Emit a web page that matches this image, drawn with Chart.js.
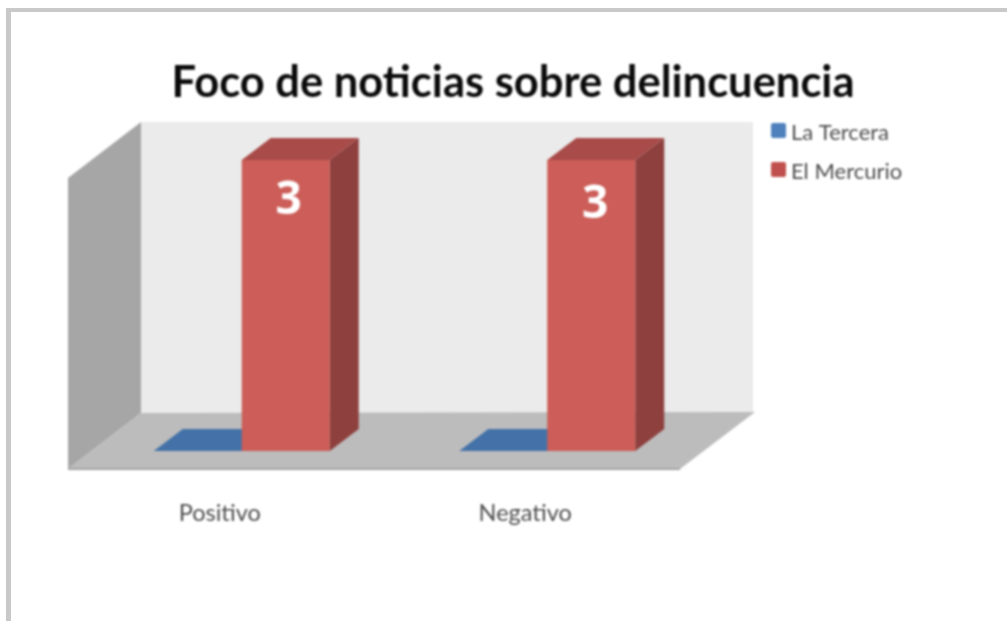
<!DOCTYPE html>
<html>
<head>
<meta charset="utf-8">
<title>Foco de noticias sobre delincuencia</title>
<script src="https://cdn.jsdelivr.net/npm/chart.js@4"></script>
<style>
  html, body { margin: 0; padding: 0; background: #fff; overflow: hidden; }
  #frame { position: absolute; left: 6px; top: 8px; right: 0; bottom: 0;
           border-left: 5px solid #c9c9c9; border-top: 4px solid #c9c9c9; }
  #myChart { position: absolute; left: 0; top: 0; filter: blur(0.8px); }
</style>
</head>
<body>
<div id="frame"></div>
<canvas id="myChart" width="1007" height="621"></canvas>
<script>
var chart_title = "Foco de noticias sobre delincuencia"
var categories = ["Positivo", "Negativo"]
var la_tercera = [0, 0]
var el_mercurio = [3, 3]

var series_colors = ["#4f81bd", "#c0504d"]
var front_colors = ["#4472a8", "#cc5d58"]
var top_colors = ["#4472a8", "#a84b49"]
var side_colors = ["#4472a8", "#8e403e"]
var label_shift = [[3, 41], [4, 45]]

function poly(ctx, color, pts) {
  ctx.fillStyle = color
  ctx.beginPath()
  ctx.moveTo(pts[0][0], pts[0][1])
  for (var i = 1; i < pts.length; i++) ctx.lineTo(pts[i][0], pts[i][1])
  ctx.closePath()
  ctx.fill()
}

// fake 3d box: walls and floor behind the plot, then depth faces of each bar
var box3d = {
  id: 'box3d',
  beforeDatasetsDraw: function(chart) {
    var ctx = chart.ctx, a = chart.chartArea
    var dx = 73, dy = -56
    var l = a.left - 21, r = a.right - 20, t = a.top + 18, b = a.bottom + 18
    ctx.save()
    poly(ctx, "#ebebeb", [[l+dx, t+dy], [r+dx, t+dy], [r+dx, b+dy], [l+dx, b+dy]])
    poly(ctx, "#a6a6a6", [[l, t], [l+dx, t+dy], [l+dx, b+dy], [l, b]])
    poly(ctx, "#bcbcbc", [[l, b], [l+dx, b+dy], [r+dx+2, b+dy-1], [r, b]])
    ctx.fillStyle = "#a3a3a3"
    ctx.fillRect(l, b - 1, r - l, 2)

    var bx = 29, by = -22
    chart.data.datasets.forEach(function(ds, n) {
      chart.getDatasetMeta(n).data.forEach(function(bar) {
        var x0 = bar.x - bar.width / 2, x1 = bar.x + bar.width / 2
        poly(ctx, side_colors[n], [[x1, bar.y], [x1+bx, bar.y+by], [x1+bx, bar.base+by], [x1, bar.base]])
        poly(ctx, top_colors[n], [[x0, bar.y], [x0+bx, bar.y+by], [x1+bx, bar.y+by], [x1, bar.y]])
      })
    })
    ctx.restore()
  },
  afterDatasetsDraw: function(chart) {
    var ctx = chart.ctx
    ctx.save()
    // value labels
    ctx.fillStyle = "#ffffff"
    ctx.font = "bold 46px 'Open Sans'"
    ctx.textAlign = "center"
    ctx.textBaseline = "middle"
    chart.getDatasetMeta(1).data.forEach(function(bar, i) {
      ctx.fillText(String(el_mercurio[i]), bar.x + label_shift[i][0], bar.y + label_shift[i][1])
    })
    // title
    ctx.fillStyle = "#0a0a0a"
    ctx.font = "bold 43.5px Lato"
    ctx.fillText(chart_title, 513, 83)
    // legend
    ctx.font = "22px Lato"
    ctx.textAlign = "left"
    chart.data.datasets.forEach(function(ds, n) {
      var y = 133 + n * 39
      ctx.fillStyle = series_colors[n]
      ctx.beginPath()
      ctx.roundRect(771, y - 10, 15, 15, 2)
      ctx.fill()
      ctx.fillStyle = "#4d4d4d"
      ctx.fillText(ds.label, 791, y)
    })
    ctx.restore()
  }
}

document.addEventListener('DOMContentLoaded', function() {
  var ctx = document.getElementById("myChart").getContext('2d');
  var myChart = new Chart(ctx, {
    type: 'bar',
    data: {
      labels: categories,
      datasets: [
        { label: "La Tercera", data: la_tercera, backgroundColor: front_colors[0] },
        { label: "El Mercurio", data: el_mercurio, backgroundColor: front_colors[1] }
      ]
    },
    plugins: [box3d],
    options: {
      responsive: false,
      animation: false,
      devicePixelRatio: 1,
      categoryPercentage: 0.576,
      barPercentage: 1,
      layout: { padding: { left: 89, right: 307, top: 160, bottom: 70 } },
      plugins: { legend: { display: false }, title: { display: false }, tooltip: { enabled: false } },
      scales: {
        x: {
          grid: { display: false },
          border: { display: false },
          afterFit: function(scale) { scale.height = 100 },
          ticks: {
            color: "#4d4d4d",
            font: { family: "Lato", size: 23.5 },
            padding: 40,
            labelOffset: -22,
            maxRotation: 0,
            autoSkip: false
          }
        },
        y: { display: false, min: 0, max: 3 }
      }
    }
  });
})
</script>
</body>
</html>
